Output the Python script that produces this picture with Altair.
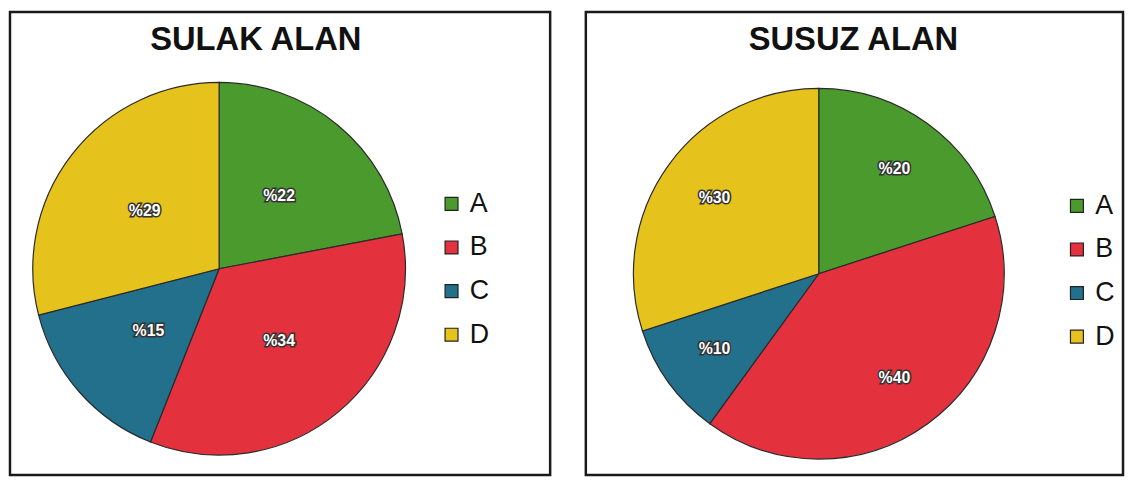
import altair as alt
import pandas as pd

categories = ["A", "B", "C", "D"]
sulak_values = [22, 34, 15, 29]
susuz_values = [20, 40, 10, 30]
titles = ["SULAK ALAN", "SUSUZ ALAN"]
colors = ["#4b9a2d", "#e3323d", "#22708c", "#e6c21d"]
FONT = "Liberation Sans"


def panel(values, title, w, h, cx, cy, r, label_r, tx, ty, lx, ly):
    df = pd.DataFrame({
        "cat": categories,
        "val": values,
        "label": [f"%{v}" for v in values],
    })
    base = alt.Chart(df).encode(
        theta=alt.Theta("val:Q", stack=True),
        order=alt.Order("cat:N", sort="ascending"),
    )
    color = alt.Color(
        "cat:N",
        scale=alt.Scale(domain=categories, range=colors),
        legend=alt.Legend(
            title=None, orient="none", legendX=lx, legendY=ly,
            labelFontSize=27, labelFont=FONT, labelColor="#111",
            symbolType="square", symbolSize=170, symbolStrokeWidth=1.2,
            symbolStrokeColor="#222", rowPadding=16, labelOffset=5,
        ),
    )
    arcs = base.mark_arc(
        outerRadius=r, stroke="#2a2a2a", strokeWidth=1.2, x=cx, y=cy
    ).encode(color=color)
    halo = base.mark_text(
        radius=label_r, x=cx, y=cy, fontSize=16, fontWeight="bold", font=FONT,
        stroke="#333", strokeWidth=3, color="#333",
    ).encode(text="label:N")
    txt = base.mark_text(
        radius=label_r, x=cx, y=cy, fontSize=16, fontWeight="bold", font=FONT,
        color="white",
    ).encode(text="label:N")
    tdf = pd.DataFrame({"t": [title]})
    ttl = alt.Chart(tdf).mark_text(
        x=tx, y=ty, fontSize=33, fontWeight="bold", font=FONT, color="#111",
        baseline="middle", align="center",
    ).encode(text="t:N")
    box = alt.Chart(tdf).mark_rect(
        fill=None, fillOpacity=0, stroke="#1a1a1a", strokeWidth=2.5
    ).encode(
        x=alt.value(0), x2=alt.value(w), y=alt.value(0), y2=alt.value(h)
    )
    return alt.layer(box, arcs, halo, txt, ttl).properties(width=w, height=h)


left = panel(sulak_values, titles[0], 545, 467, 211, 259, 188, 95, 248, 28, 432, 180)
right = panel(susuz_values, titles[1], 542, 467, 235, 264, 187, 130, 270, 28, 482, 182)

chart = (
    alt.hconcat(left, right, spacing=32)
    .resolve_scale(color="independent", theta="independent")
    .resolve_legend(color="independent")
    .properties(padding={"left": 0, "top": 0, "right": 0, "bottom": 0}, background="white")
    .configure_view(stroke=None)
)

chart.save("out.html", embed_options={"renderer": "svg", "actions": False})
